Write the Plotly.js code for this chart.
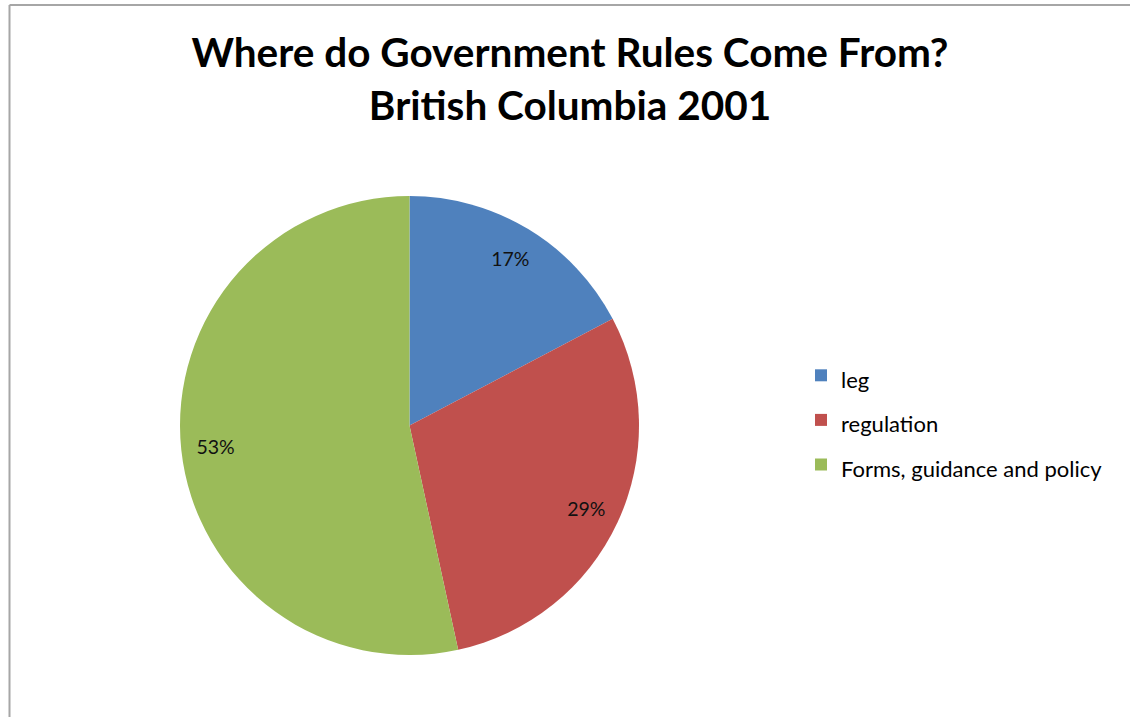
<!DOCTYPE html>
<html>
<head>
<meta charset="utf-8">
<script src="https://cdn.plot.ly/plotly-3.0.1.min.js"></script>
<style>
html,body{margin:0;padding:0;background:#fff;}
#chart{width:1130px;height:717px;}
</style>
</head>
<body>
<div id="chart"></div>
<script>
const categories = ['leg', 'regulation', 'Forms, guidance and policy'];
const shares = [17.3, 29.3, 53.4];
const colors = ['#4F81BD', '#C0504D', '#9BBB59'];
const titleLines = ['Where do Government Rules Come From?', 'British Columbia 2001'];

const W = 1130, H = 717;
const cx = 409.5, cy = 425.5, R = 229.5;
const dom = {x: [(cx - R) / W, (cx + R) / W], y: [(H - cy - R) / H, (H - cy + R) / H]};
const legendLabels = categories.map(c => '<span style="font-size:22px">' + c + '</span>');

const pieTrace = {
  type: 'pie',
  labels: legendLabels,
  values: shares,
  sort: false,
  direction: 'clockwise',
  rotation: 0,
  marker: {colors: colors, line: {width: 0}},
  textinfo: 'none',
  hoverinfo: 'label+percent',
  domain: dom
};

const labelTrace = {
  type: 'pie',
  labels: legendLabels,
  values: shares,
  sort: false,
  direction: 'clockwise',
  rotation: 0,
  hole: 0.7,
  marker: {colors: ['rgba(0,0,0,0)', 'rgba(0,0,0,0)', 'rgba(0,0,0,0)'], line: {width: 0}},
  texttemplate: '%{percent:.0%}',
  textposition: 'inside',
  insidetextorientation: 'horizontal',
  textfont: {family: 'Lato, sans-serif', size: 19.5, color: '#111'},
  showlegend: false,
  hoverinfo: 'skip',
  domain: dom
};

const layout = {
  width: W, height: H,
  margin: {l: 0, r: 0, t: 0, b: 0},
  paper_bgcolor: '#ffffff',
  font: {family: 'Lato, sans-serif', color: '#000'},
  title: {
    text: '<b>' + titleLines.join('<br>') + '</b>',
    font: {family: 'Lato, sans-serif', size: 40.5, color: '#000'},
    x: 570 / W, xanchor: 'center',
    yref: 'container', y: 1 - 67 / H, yanchor: 'middle'
  },
  showlegend: true,
  legend: {
    x: 801 / W, xanchor: 'left', y: 1 - 348 / H, yanchor: 'top',
    font: {family: 'Lato, sans-serif', size: 32, color: '#000'},
    itemwidth: 30,
    bgcolor: 'rgba(0,0,0,0)'
  },
  shapes: [
    {type: 'line', xref: 'paper', yref: 'paper', x0: 9.5 / W, x1: 9.5 / W, y0: 0, y1: 1 - 5 / H, line: {color: '#a6a6a6', width: 2}},
    {type: 'line', xref: 'paper', yref: 'paper', x0: 9.5 / W, x1: 1, y0: 1 - 5 / H, y1: 1 - 5 / H, line: {color: '#a6a6a6', width: 2}}
  ]
};

Plotly.newPlot('chart', [pieTrace, labelTrace], layout, {displayModeBar: false, staticPlot: true});
</script>
</body>
</html>
